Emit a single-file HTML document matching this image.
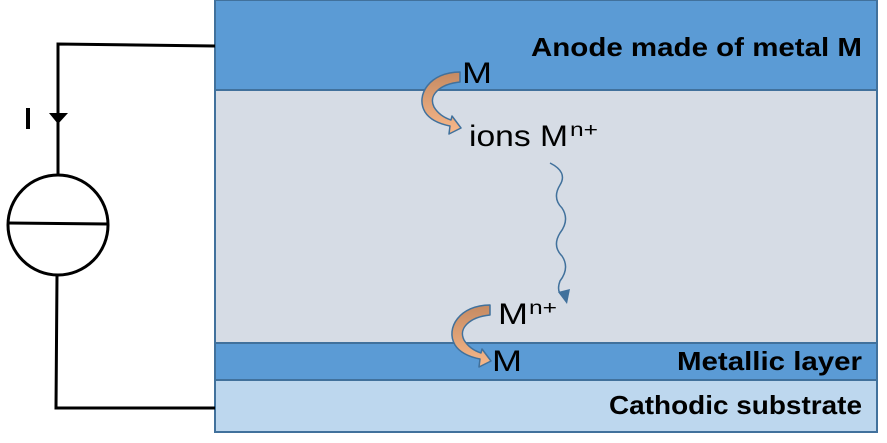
<!DOCTYPE html>
<html><head><meta charset="utf-8"><style>
body{margin:0;background:#fff}
svg{display:block}
text{font-family:"Liberation Sans",sans-serif}
</style></head><body>
<svg width="887" height="443" viewBox="0 0 887 443" xmlns="http://www.w3.org/2000/svg">
<defs>
<linearGradient id="g" x1="0" y1="0" x2="0" y2="1"><stop offset="0" stop-color="#c58a62"/><stop offset="1" stop-color="#f8b88a"/></linearGradient>
</defs>
<rect x="215" y="0" width="662" height="90" fill="#5b9bd5" stroke="#41719c" stroke-width="2"/>
<rect x="215" y="90" width="662" height="253" fill="#d6dce5" stroke="#41719c" stroke-width="2"/>
<rect x="215" y="343" width="662" height="37" fill="#5b9bd5" stroke="#41719c" stroke-width="2"/>
<rect x="215" y="380" width="662" height="52" fill="#bdd7ee" stroke="#41719c" stroke-width="2"/>
<text x="531" y="56" font-weight="bold" font-size="26" textLength="331" lengthAdjust="spacingAndGlyphs">Anode made of metal M</text>
<text x="677" y="370" font-weight="bold" font-size="26" textLength="185" lengthAdjust="spacingAndGlyphs">Metallic layer</text>
<text x="609" y="414" font-weight="bold" font-size="26" textLength="253" lengthAdjust="spacingAndGlyphs">Cathodic substrate</text>
<text x="462" y="83" font-size="30" textLength="30" lengthAdjust="spacingAndGlyphs">M</text>
<text x="469" y="146" font-size="30" textLength="99" lengthAdjust="spacingAndGlyphs">ions M</text><text x="570" y="136" font-size="19" textLength="28" lengthAdjust="spacingAndGlyphs">n+</text>
<text x="498" y="324" font-size="30" textLength="30" lengthAdjust="spacingAndGlyphs">M</text><text x="529" y="314" font-size="19" textLength="28" lengthAdjust="spacingAndGlyphs">n+</text>
<text x="492" y="371" font-size="30" textLength="30" lengthAdjust="spacingAndGlyphs">M</text>
<g id="a">
<path d="M460,72 C430,72 415,95 425,112 C430,120 440,124 450,126 L449,134 L461,128 L452,116 L451,120 C442,117 437,112 434,107 C428,95 440,84 460,82 Z" fill="url(#g)" stroke="#41719c" stroke-width="1.5" stroke-linejoin="round"/>
</g>
<use href="#a" transform="translate(30,233)"/>
<path d="M550 163 Q568 172 560 185 Q552 198 562 208 Q570 220 560 233 Q552 246 562 256 Q570 268 560 281 Q556 292 563 296" fill="none" stroke="#41719c" stroke-width="1.5"/>
<polygon points="558,292 567,304 570,289" fill="#41719c"/>
<g stroke="#000" stroke-width="3" fill="none">
<polyline points="215,46 58,44 58,175"/>
<circle cx="58" cy="225" r="50" fill="#fff"/>
<line x1="8" y1="223" x2="108" y2="224"/>
<polyline points="57,275 56,408 215,408"/>
</g>
<polygon points="49,113 68,113 58,124" fill="#000"/>
<rect x="26" y="108" width="4" height="21" fill="#000"/>
</svg>
</body></html>
